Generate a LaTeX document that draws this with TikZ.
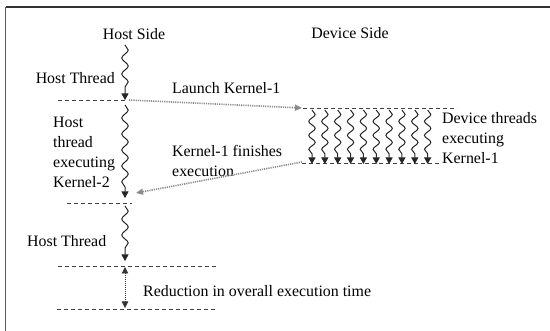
\documentclass[tikz,border=0pt]{standalone}
\usepackage{fontspec}
\setmainfont{Liberation Serif}
\usetikzlibrary{arrows.meta,decorations.pathmorphing}
\begin{document}
\begin{tikzpicture}[x=1pt,y=-1pt,
  lbl/.style={font=\fontsize{15.9}{20}\selectfont, inner sep=0pt, text=black},
  wave/.style={draw=black!85, line width=1pt, decorate,
    decoration={snake, amplitude=3.2pt, segment length=16pt, post length=6pt},
    -{Triangle[width=7pt,length=6.5pt]}},
  dashln/.style={draw=black!75, line width=0.9pt, dash pattern=on 4pt off 3pt},
  dotarr/.style={draw=black!45, line width=1.6pt, dash pattern=on 1.2pt off 1pt,
    -{Triangle[width=6pt,length=7pt]}},
  dblarr/.style={draw=black!80, line width=0.8pt, dash pattern=on 1pt off 1pt,
    {Triangle[width=6.5pt,length=6.5pt]}-{Triangle[width=6.5pt,length=6.5pt]}},
]
\useasboundingbox (0,0) rectangle (550,331);
% frame (top and left edges only)
\coordinate (ftl) at (5.5,7.5);
\coordinate (ftr) at (550,7.5);
\coordinate (fbl) at (5.5,331);
\draw[draw=black!80, line width=2pt] (ftl) -- (ftr);
\draw[draw=black!65, line width=1.5pt] (ftl) -- (fbl);

% titles
\node[lbl] (hs) at (134,34) {Host Side};
\node[lbl] (ds) at (350,33) {Device Side};

% host labels
\node[lbl, anchor=east] (ht1) at (115,78) {Host Thread};
\node[lbl, align=left, anchor=west] (hk2) at (53,152) {Host\\thread\\executing\\Kernel-2};
\node[lbl, anchor=west] (ht2) at (27,241) {Host Thread};

% messages
\node[lbl, anchor=west] (lk) at (172,88) {Launch Kernel-1};
\node[lbl, align=left, anchor=west] (kf) at (172,161) {Kernel-1 finishes\\execution};
\node[lbl, align=left, anchor=west] (dt) at (442,138) {Device threads\\executing\\Kernel-1};
\node[lbl, anchor=west] (red) at (143,291) {Reduction in overall execution time};

% host timeline
\coordinate (h0) at (125,45);
\coordinate (h1) at (125,100);
\coordinate (h2) at (125,105);
\coordinate (h3) at (125,198);
\coordinate (h4) at (125,206);
\coordinate (h5) at (125,261);
\draw[wave] (h0) -- (h1);
\draw[wave] (h2) -- (h3);
\draw[wave] (h4) -- (h5);

% dashed separators
\coordinate (d1a) at (58,100);  \coordinate (d1b) at (126,100);
\coordinate (d2a) at (67,203);  \coordinate (d2b) at (132,203);
\coordinate (d3a) at (58,266);  \coordinate (d3b) at (217,266);
\coordinate (d4a) at (57,309);  \coordinate (d4b) at (217,309);
\draw[dashln] (d1a) -- (d1b);
\draw[dashln] (d2a) -- (d2b);
\draw[dashln] (d3a) -- (d3b);
\draw[dashln] (d4a) -- (d4b);

% device block
\coordinate (dta) at (303,108); \coordinate (dtb) at (457,108);
\coordinate (dba) at (302,163); \coordinate (dbb) at (440,163);
\draw[dashln] (dta) -- (dtb);
\draw[dashln] (dba) -- (dbb);
\foreach \i in {0,...,9} {
  \coordinate (w\i a) at ({312+12.85*\i},110);
  \coordinate (w\i b) at ({312+12.85*\i},164);
  \draw[wave, decoration={segment length=14pt}] (w\i a) -- (w\i b);
}

% launch and finish arrows
\coordinate (la) at (129,100);
\coordinate (lb) at (302,108);
\draw[dotarr] (la) -- (lb);
\coordinate (fa) at (302,162);
\coordinate (fb) at (136,193);
\draw[dotarr] (fa) -- (fb);

% reduction arrow
\coordinate (ra) at (125,267);
\coordinate (rb) at (125,308);
\draw[dblarr] (ra) -- (rb);
\end{tikzpicture}
\end{document}
